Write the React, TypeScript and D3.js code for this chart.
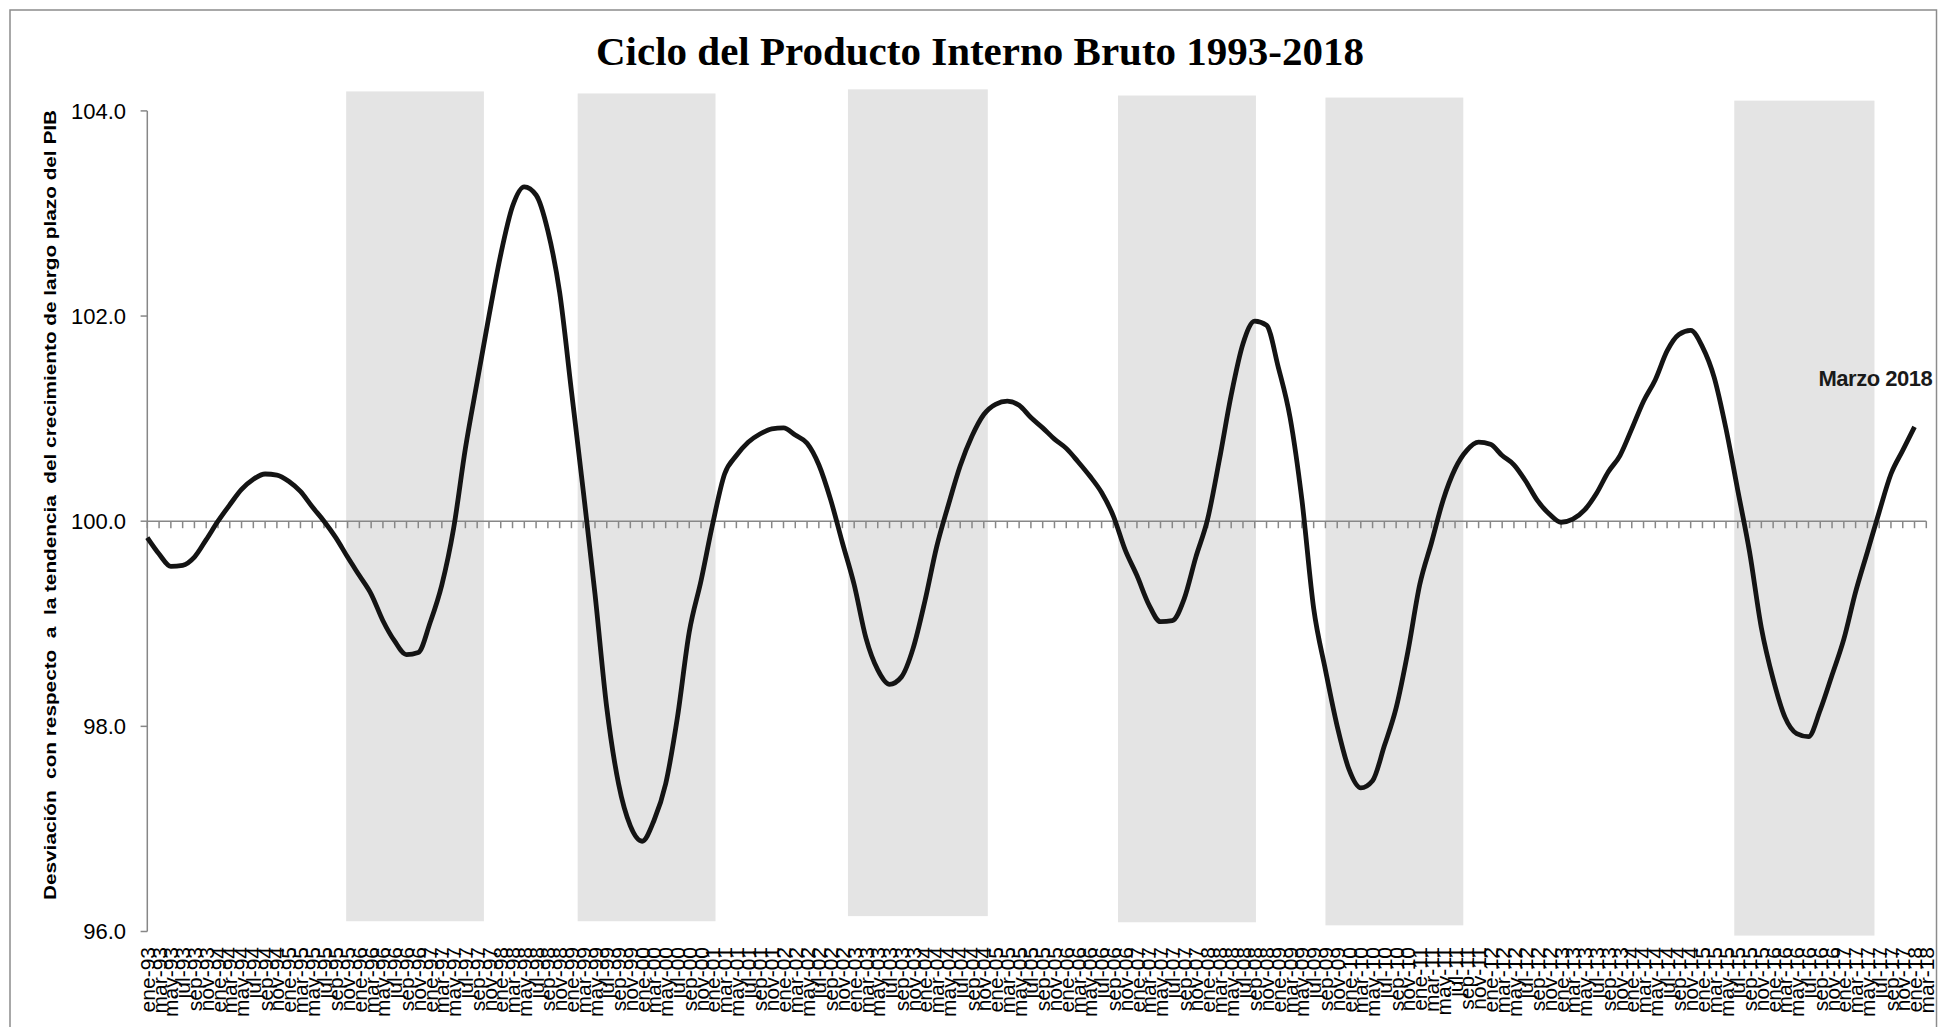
import React from "react";
import * as d3 from "d3";

// meses mostrados en el eje (cada dos meses)
const months = ["ene", "mar", "may", "jul", "sep", "nov"];
const years = d3.range(1993, 2019);

// etiquetas ene-93 ... mar-18
const categories: string[] = years
  .flatMap((y) => months.map((m) => `${m}-${String(y).slice(2)}`))
  .slice(0, 152);

// ciclo del PIB (un valor por etiqueta)
const cycle = [
  99.84, 99.68, 99.56, 99.57, 99.65, 99.82, 100.0, 100.16, 100.31, 100.41,
  100.46, 100.45, 100.39, 100.29, 100.14, 100.0, 99.84, 99.65, 99.47, 99.29,
  99.03, 98.83, 98.7, 98.72, 99.01, 99.38, 99.93, 100.71, 101.36, 102.0,
  102.6, 103.07, 103.26, 103.18, 102.83, 102.23, 101.27, 100.3, 99.29, 98.18,
  97.44, 97.03, 96.88, 97.08, 97.44, 98.09, 98.92, 99.42, 99.98, 100.46,
  100.64, 100.77, 100.85, 100.9, 100.91, 100.84, 100.76, 100.55, 100.21, 99.79,
  99.38, 98.86, 98.55, 98.41, 98.48, 98.76, 99.22, 99.75, 100.16, 100.54,
  100.83, 101.04, 101.14, 101.17, 101.13, 101.01, 100.91, 100.8, 100.71, 100.58,
  100.44, 100.28, 100.05, 99.72, 99.47, 99.19, 99.02, 99.03, 99.24, 99.65,
  100.02, 100.6, 101.23, 101.73, 101.95, 101.91, 101.5, 101.01, 100.21, 99.15,
  98.55, 98.0, 97.58, 97.4, 97.47, 97.81, 98.18, 98.73, 99.38, 99.79,
  100.21, 100.51, 100.69, 100.77, 100.75, 100.64, 100.55, 100.39, 100.2, 100.07,
  99.99, 100.02, 100.11, 100.27, 100.48, 100.64, 100.9, 101.17, 101.38, 101.66,
  101.82, 101.86, 101.7, 101.4, 100.9, 100.3, 99.7, 98.96, 98.46, 98.09,
  97.93, 97.9, 98.16, 98.5, 98.85, 99.31, 99.7, 100.09, 100.46, 100.69,
  100.92,
];

// franjas sombreadas (posicion en categorias, limites en valores del eje)
const bandStart = [16.88, 36.53, 59.47, 82.39, 100.0, 134.7];
const bandEnd = [28.57, 48.23, 71.34, 94.1, 111.7, 146.6];
const bandTop = [104.19, 104.17, 104.21, 104.15, 104.13, 104.1];
const bandBottom = [96.1, 96.1, 96.15, 96.09, 96.06, 95.96];

const yTicks = [96, 98, 100, 102, 104];

const W = 1939;
const H = 1027;
const axisColor = "#878787";

const App = () => {
  const x = d3
    .scaleLinear()
    .domain([0, categories.length - 1])
    .range([147.3, 1926.3]);
  const y = d3.scaleLinear().domain([96, 104]).range([931.5, 110.9]);

  const line = d3
    .line<number>()
    .x((_, i) => x(i))
    .y((d) => y(d))
    .curve(d3.curveMonotoneX);

  const lastIdx = cycle.length - 1;

  return (
    <div style={{ position: "fixed", left: 0, top: 0, width: W, height: H, background: "#fff" }}>
      <svg width={W} height={H} style={{ display: "block" }}>
        <rect x={10} y={10} width={1926.5} height={1040} fill="#fff" stroke="#8c8c8c" strokeWidth={1.5} />

        <text
          x={980}
          y={65}
          textAnchor="middle"
          fontFamily="'Liberation Serif', 'Times New Roman', serif"
          fontWeight="bold"
          fontSize={41}
          fill="#000"
        >
          Ciclo del Producto Interno Bruto 1993-2018
        </text>

        {bandStart.map((s, k) => (
          <rect
            key={k}
            x={x(s)}
            width={x(bandEnd[k]) - x(s)}
            y={y(bandTop[k])}
            height={y(bandBottom[k]) - y(bandTop[k])}
            fill="#e4e4e4"
          />
        ))}

        {/* eje vertical */}
        <line x1={x(0)} x2={x(0)} y1={y(104)} y2={y(96)} stroke={axisColor} strokeWidth={1.5} />
        {yTicks.map((t) => (
          <g key={t}>
            <line x1={x(0) - 6.7} x2={x(0)} y1={y(t)} y2={y(t)} stroke={axisColor} strokeWidth={1.5} />
            <text
              x={126}
              y={y(t)}
              dy="0.35em"
              textAnchor="end"
              fontFamily="'Liberation Sans', Arial, sans-serif"
              fontSize={22}
              fill="#000"
            >
              {d3.format(".1f")(t)}
            </text>
          </g>
        ))}

        {/* eje de categorias en 100 */}
        <line x1={x(0)} x2={x(categories.length - 1)} y1={y(100)} y2={y(100)} stroke={axisColor} strokeWidth={1.5} />
        {categories.map((c, i) => (
          <line key={c} x1={x(i)} x2={x(i)} y1={y(100)} y2={y(100) + 7} stroke={axisColor} strokeWidth={1.5} />
        ))}
        {categories.map((c, i) => (
          <text
            key={"l" + c}
            transform={`translate(${x(i)},947) rotate(-90)`}
            dy="0.36em"
            textAnchor="end"
            fontFamily="'Liberation Sans', Arial, sans-serif"
            fontSize={21}
            fill="#000"
          >
            {c}
          </text>
        ))}

        <path d={line(cycle) ?? ""} fill="none" stroke="#141414" strokeWidth={4.8} strokeLinejoin="round" />

        <text
          x={x(lastIdx) - 96}
          y={y(cycle[lastIdx]) - 41}
          fontFamily="'Liberation Sans', Arial, sans-serif"
          fontWeight="bold"
          fontSize={22}
          letterSpacing={-0.5}
          fill="#1a1a1a"
        >
          Marzo 2018
        </text>

        <text
          transform={`translate(50,505) rotate(-90)`}
          textAnchor="middle"
          dy="0.35em"
          fontFamily="'Liberation Sans', Arial, sans-serif"
          fontWeight="bold"
          fontSize={17}
          textLength={790}
          lengthAdjust="spacingAndGlyphs"
          fill="#000"
          style={{ whiteSpace: "pre" }}
        >
          {"Desviación  con respecto  a  la tendencia  del crecimiento de largo plazo del PIB"}
        </text>
      </svg>
    </div>
  );
};

export default App;
